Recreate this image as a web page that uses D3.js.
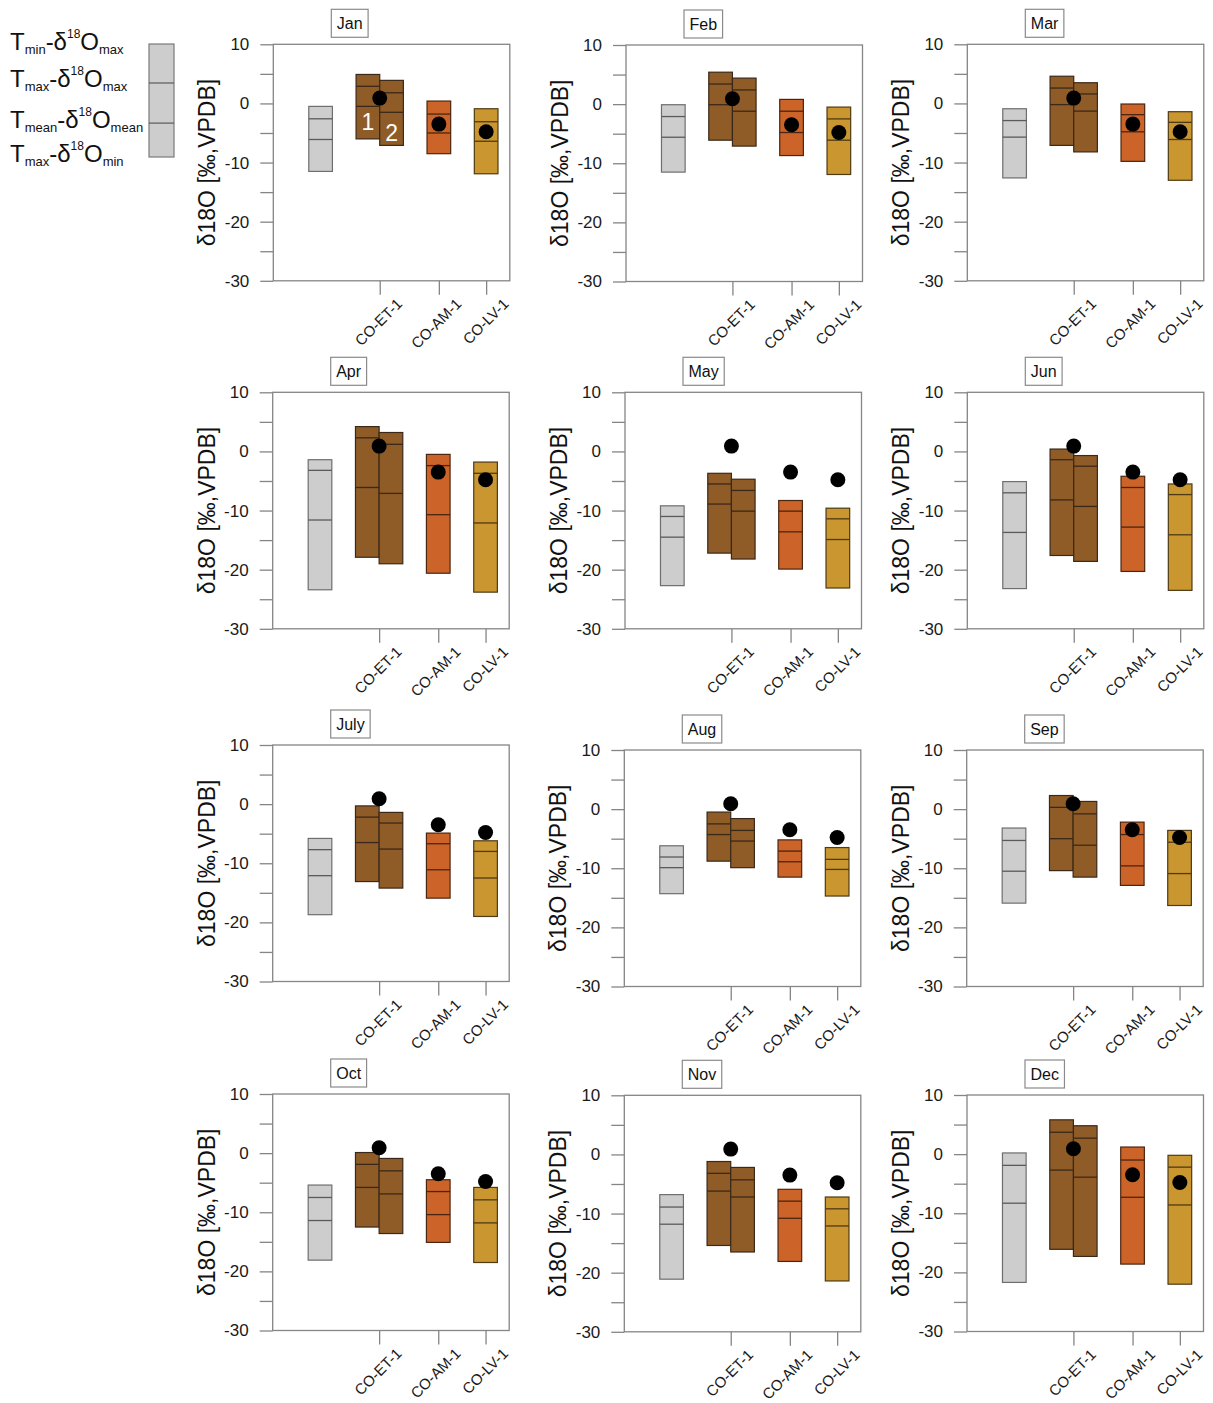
<!DOCTYPE html>
<html><head><meta charset="utf-8">
<script src="https://cdn.jsdelivr.net/npm/d3@7"></script>
<style>
body{margin:0;background:#fff}
svg{display:block}
text{font-family:"Liberation Sans",Arial,Helvetica,sans-serif}
</style>
</head><body>
<svg id="c" width="1213" height="1403"></svg>
<script>
// ---------------- DATA ----------------
const months = ["Jan","Feb","Mar","Apr","May","Jun","July","Aug","Sep","Oct","Nov","Dec"];
const sites = ["CO-ET-1","CO-AM-1","CO-LV-1"];
const sitePos = [2.25, 3.5, 4.5];
const yTicks = [10, 0, -10, -20, -30];
const yMinorTicks = [5, -5, -15, -25];
// each box: [Tmin-d18Omax (top), Tmax-d18Omax, Tmean-d18Omean, Tmax-d18Omin (bottom)]
const refBox = [
  [-0.5,-2.6,-6.1,-11.5],[-0.1,-2.1,-5.6,-11.5],[-0.9,-2.9,-5.7,-12.6],
  [-1.4,-3.2,-11.6,-23.4],[-9.2,-11.0,-14.5,-22.7],[-5.1,-7.0,-13.7,-23.2],
  [-5.8,-7.7,-12.1,-18.7],[-6.2,-8.1,-9.9,-14.3],[-3.2,-5.3,-10.5,-15.9],
  [-5.4,-7.5,-11.4,-18.1],[-6.8,-8.9,-11.8,-21.1],[0.2,-1.9,-8.3,-21.7]
];
const et1Box = [
  [4.9,2.9,-0.5,-6.0],[5.4,3.4,-0.1,-6.1],[4.6,2.6,-0.2,-7.1],
  [4.2,2.3,-6.1,-17.9],[-3.7,-5.5,-8.9,-17.2],[0.4,-1.4,-8.2,-17.6],
  [-0.3,-2.2,-6.5,-13.1],[-0.5,-2.5,-4.3,-8.8],[2.3,0.3,-5.0,-10.4],
  [0.1,-1.9,-5.8,-12.5],[-1.2,-3.2,-6.2,-15.4],[5.8,3.7,-2.7,-16.1]
];
const et2Box = [
  [3.9,1.8,-1.5,-7.1],[4.4,2.4,-1.2,-7.1],[3.5,1.6,-1.3,-8.2],
  [3.2,1.2,-7.1,-19.0],[-4.7,-6.6,-10.1,-18.2],[-0.7,-2.5,-9.3,-18.6],
  [-1.4,-3.2,-7.6,-14.2],[-1.6,-3.6,-5.4,-9.9],[1.3,-0.8,-6.1,-11.5],
  [-0.9,-3.0,-6.9,-13.6],[-2.2,-4.3,-7.2,-16.5],[4.8,2.7,-3.9,-17.3]
];
const am1Box = [
  [0.4,-1.8,-5.0,-8.5],[0.8,-1.2,-4.8,-8.7],[-0.1,-1.9,-4.8,-9.8],
  [-0.5,-2.4,-10.7,-20.6],[-8.3,-10.1,-13.6,-19.9],[-4.2,-6.1,-12.8,-20.3],
  [-4.9,-6.7,-11.1,-15.9],[-5.2,-7.1,-8.9,-11.5],[-2.2,-4.3,-9.6,-12.9],
  [-4.5,-6.5,-10.4,-15.1],[-5.9,-7.9,-10.8,-18.1],[1.2,-1.0,-7.3,-18.6]
];
const lv1Box = [
  [-0.9,-3.1,-6.4,-11.9],[-0.5,-2.5,-6.1,-11.9],[-1.4,-3.2,-6.1,-13.0],
  [-1.8,-3.7,-12.1,-23.8],[-9.6,-11.4,-14.9,-23.1],[-5.5,-7.3,-14.1,-23.5],
  [-6.2,-8.0,-12.5,-19.0],[-6.5,-8.5,-10.2,-14.7],[-3.6,-5.6,-10.9,-16.3],
  [-5.8,-7.9,-11.8,-18.5],[-7.2,-9.2,-12.1,-21.4],[-0.2,-2.2,-8.6,-22.0]
];
const dotValues = [0.9, -3.5, -4.8];
const legendSubs = [["min","max"],["max","max"],["mean","mean"],["max","min"]];

// ---------------- LAYOUT ----------------
const svg = d3.select("#c");
const W = 236.5, H = 236.5;
const origins = [[273.3,44.3],[626,45],[967.3,44.3],[272.7,392.3],[625,392.3],[967.3,392.3],
                 [272.7,745],[624.3,750],[966.7,750],[272.7,1094],[624.3,1095.3],[967,1095]];
const series = [
  {data: refBox, x: 1.0,  fill:"#cdcdcd", stroke:"#6e6e6e", line:"#5a5a5a"},
  {data: et1Box, x: 2.0,  fill:"#8f5c28", stroke:"#3a2818", line:"#3a2818"},
  {data: et2Box, x: 2.5,  fill:"#8f5c28", stroke:"#3a2818", line:"#3a2818"},
  {data: am1Box, x: 3.5,  fill:"#cc6329", stroke:"#4a2612", line:"#4a2612"},
  {data: lv1Box, x: 4.5,  fill:"#c99630", stroke:"#4e3a14", line:"#4e3a14"}
];
const halfW = 0.25;
const frameColor = "#858585";

months.forEach((m, i) => {
  const [L, T] = origins[i];
  const x = d3.scaleLinear().domain([0, 5]).range([L, L + W]);
  const y = d3.scaleLinear().domain([-30, 10]).range([T + H, T]);
  const g = svg.append("g");

  // y axis
  const allY = yTicks.concat(yMinorTicks).sort((a,b)=>b-a);
  const ya = g.append("g").attr("transform", `translate(${L},0)`)
    .call(d3.axisLeft(y).tickValues(allY).tickSize(13).tickPadding(11)
      .tickFormat(d => yTicks.includes(d) ? d : ""));
  ya.select(".domain").remove();
  ya.selectAll("line").attr("stroke", frameColor).attr("stroke-width", 1.3);
  ya.selectAll("text").style("font-size", "17px").attr("fill", "#1a1a1a");

  // x axis
  const xa = g.append("g").attr("transform", `translate(0,${T + H})`)
    .call(d3.axisBottom(x).tickValues(sitePos).tickSize(14)
      .tickFormat((d, k) => sites[k]));
  xa.select(".domain").remove();
  xa.selectAll("line").attr("stroke", frameColor).attr("stroke-width", 1.3);
  xa.selectAll("text").style("font-size", "15px").attr("fill", "#1a1a1a")
    .attr("x", 0).attr("y", 0).attr("dy", 0)
    .attr("text-anchor", "end")
    .attr("transform", "translate(23,24) rotate(-45)");

  // frame
  g.append("rect").attr("x", L).attr("y", T).attr("width", W).attr("height", H)
    .attr("fill", "none").attr("stroke", frameColor).attr("stroke-width", 1.3);

  // y title
  g.append("text").attr("transform", `translate(${L - 58},${T + H / 2}) rotate(-90)`)
    .attr("text-anchor", "middle").style("font-size", "23px").attr("fill", "#111")
    .text("δ18O [‰,VPDB]");

  // month title box
  const tbox = g.append("rect");
  const tt = g.append("text").style("font-size", "16px").attr("fill", "#111").text(m);
  const tw = tt.node().getComputedTextLength();
  const bx = L + 58, bw = tw + 11, bh = 28, by = T - 7 - bh;
  tbox.attr("x", bx).attr("y", by).attr("width", bw).attr("height", bh)
    .attr("fill", "#fff").attr("stroke", "#8a8a8a").attr("stroke-width", 1.2);
  tt.attr("x", bx + bw / 2).attr("y", by + 20).attr("text-anchor", "middle");

  // boxes
  series.forEach(s => {
    const v = s.data[i];
    const x0 = x(s.x - halfW), x1 = x(s.x + halfW);
    g.append("rect").attr("x", x0).attr("y", y(v[0]))
      .attr("width", x1 - x0).attr("height", y(v[3]) - y(v[0]))
      .attr("fill", s.fill).attr("stroke", s.stroke).attr("stroke-width", 1.2);
    [v[1], v[2]].forEach(lv => {
      g.append("line").attr("x1", x0).attr("x2", x1).attr("y1", y(lv)).attr("y2", y(lv))
        .attr("stroke", s.line).attr("stroke-width", 1.3);
    });
  });

  // annotation numbers in first panel
  if (i === 0) {
    g.append("text").attr("x", x(2.0)).attr("y", y(-4.5)).attr("text-anchor", "middle")
      .style("font-size", "23px").attr("fill", "#fff").text("1");
    g.append("text").attr("x", x(2.5)).attr("y", y(-6.3)).attr("text-anchor", "middle")
      .style("font-size", "23px").attr("fill", "#fff").text("2");
  }

  // dots
  g.selectAll("circle.dot").data(dotValues).join("circle").attr("class", "dot")
    .attr("cx", (d, k) => x(sitePos[k])).attr("cy", d => y(d)).attr("r", 7.5).attr("fill", "#000");
});

// ---------------- LEGEND ----------------
const lg = svg.append("g");
const legBaselines = [50, 87, 128, 162];
legendSubs.forEach((sub, k) => {
  const t = lg.append("text").attr("x", 10).attr("y", legBaselines[k]).attr("fill", "#111");
  t.append("tspan").style("font-size", "24px").text("T");
  t.append("tspan").style("font-size", "13px").attr("dy", 4).text(sub[0]);
  t.append("tspan").style("font-size", "24px").attr("dy", -4).text("-δ");
  t.append("tspan").style("font-size", "12px").attr("dy", -12).text("18");
  t.append("tspan").style("font-size", "24px").attr("dy", 12).text("O");
  t.append("tspan").style("font-size", "13px").attr("dy", 4).text(sub[1]);
});
const ly = d3.scaleLinear().domain([0, 3]).range([44, 157]);
lg.append("rect").attr("x", 149).attr("y", ly(0)).attr("width", 25).attr("height", ly(3) - ly(0))
  .attr("fill", "#cdcdcd").attr("stroke", "#7a7a7a").attr("stroke-width", 1.2);
[1.035, 2.1].forEach(v => lg.append("line").attr("x1", 149).attr("x2", 174)
  .attr("y1", ly(v)).attr("y2", ly(v)).attr("stroke", "#5a5a5a").attr("stroke-width", 1.2));
</script>
</body></html>
